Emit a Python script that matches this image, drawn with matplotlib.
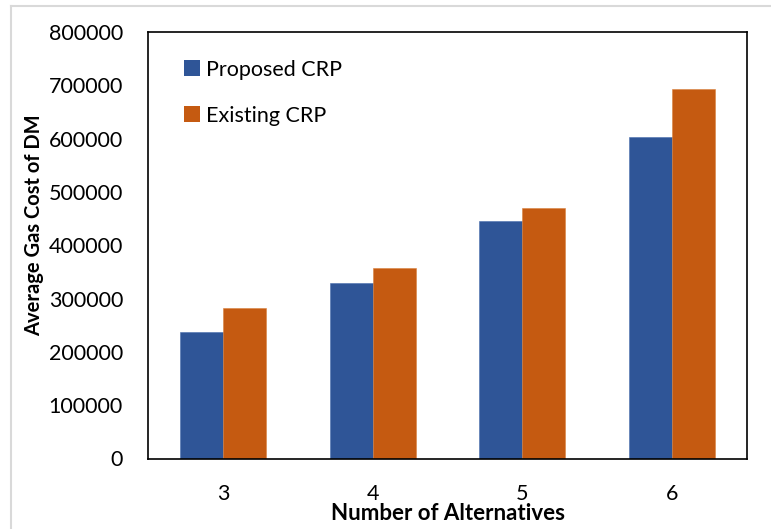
import numpy as np
import matplotlib
matplotlib.use("Agg")
import matplotlib.pyplot as plt
from matplotlib.lines import Line2D
from matplotlib.patches import Patch

alternatives = ["3", "4", "5", "6"]
proposed_crp = [238000, 329000, 446000, 603000]
existing_crp = [283000, 357000, 469000, 694000]
y_ticks = [0, 100000, 200000, 300000, 400000, 500000, 600000, 700000, 800000]

BLUE = "#2F5597"
ORANGE = "#C55A11"

plt.rcParams["font.family"] = ["Lato", "DejaVu Sans"]

W, H = 771, 529
fig = plt.figure(figsize=(W / 100, H / 100), dpi=100)
ax = fig.add_axes([148 / W, 1 - 458.5 / H, (747 - 148) / W, (458.5 - 32) / H])

x = np.arange(len(alternatives))
w = 0.287
ax.bar(x - w / 2, proposed_crp, w, color=BLUE, edgecolor="#4a6fae", linewidth=0.4, label="Proposed CRP")
ax.bar(x + w / 2, existing_crp, w, color=ORANGE, edgecolor="#d9823f", linewidth=0.4, label="Existing CRP")

ax.set_xlim(-0.5, len(alternatives) - 0.5)
ax.set_ylim(0, 800000)
ax.set_xticks(x)
ax.set_xticklabels(alternatives)
ax.set_yticks(y_ticks)
ax.set_yticklabels([str(v) for v in y_ticks])
ax.tick_params(axis="both", length=0, labelsize=15.5, colors="black")
ax.tick_params(axis="x", pad=18)
ax.tick_params(axis="y", pad=18)
for s in ax.spines.values():
    s.set_color("black")
    s.set_linewidth(1.2)

# axis titles placed in figure pixels
fig.text(448 / W, 1 - 513 / H, "Number of Alternatives", fontsize=16, fontweight="bold",
         ha="center", va="center")
fig.text(34 / W, 1 - 225 / H, "Average Gas Cost of DM", fontsize=14.5, fontweight="bold",
         ha="center", va="center", rotation=90)

handles = [Patch(facecolor=BLUE), Patch(facecolor=ORANGE)]
ax.legend(handles, ["Proposed CRP", "Existing CRP"], loc="upper left",
          bbox_to_anchor=(0.045, 0.955), frameon=False, fontsize=15.5,
          handlelength=0.75, handleheight=0.75, handletextpad=0.3,
          labelspacing=1.2, borderaxespad=0)

# thin grey border around the figure area
fig.add_artist(Line2D([11 / W, 1], [1 - 5.5 / H] * 2, transform=fig.transFigure, color="#d9d9d9", lw=1.5))
fig.add_artist(Line2D([11 / W] * 2, [0, 1 - 5.5 / H], transform=fig.transFigure, color="#d9d9d9", lw=1.5))

fig.savefig("out.png", dpi=100)
